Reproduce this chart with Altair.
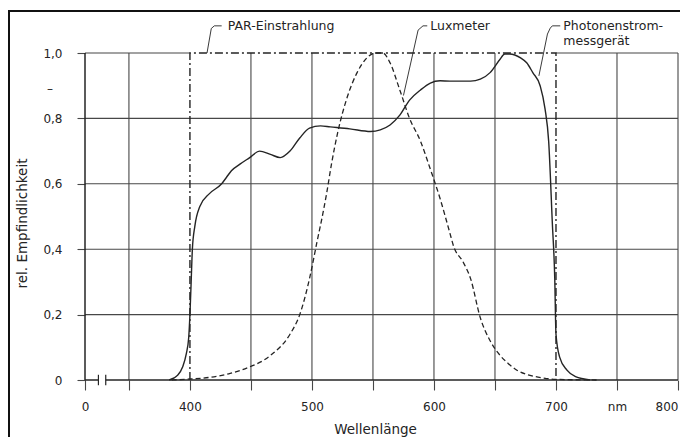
import altair as alt
import pandas as pd

# ---------------- data ----------------
# Photonenstrommessgerät (solid)
photon_nm = [383, 390, 394, 397, 399, 400, 401, 402, 404, 408, 416, 426, 430, 434, 441, 449,
             457, 466, 474, 482, 490, 498, 507, 515, 531, 548, 556, 564, 572, 580, 589, 597,
             605, 613, 630, 638, 646, 654, 658, 662, 671, 676, 681, 687, 691, 694, 697, 699,
             700, 703, 709, 716, 728]
photon_val = [0, 0.015, 0.04, 0.08, 0.13, 0.2, 0.3, 0.4, 0.47, 0.53, 0.57, 0.60, 0.62, 0.64, 0.66, 0.68,
              0.70, 0.69, 0.68, 0.70, 0.74, 0.77, 0.777, 0.774, 0.768, 0.76, 0.765, 0.78, 0.81, 0.856, 0.887, 0.908,
              0.915, 0.914, 0.914, 0.92, 0.94, 0.98, 0.997, 0.997, 0.985, 0.97, 0.94, 0.90, 0.83, 0.73, 0.48, 0.31,
              0.14, 0.07, 0.03, 0.01, 0]

# Luxmeter (dashed)
lux_nm = [385, 400, 416, 433, 449, 466, 482, 490, 498, 504, 509, 512, 516, 521, 529, 537, 545, 550,
          553, 558, 564, 572, 580, 589, 597, 605, 613, 616, 624, 630, 638, 646, 654, 661, 668, 678,
          690, 700, 735]
lux_val = [0, 0.003, 0.008, 0.02, 0.04, 0.075, 0.14, 0.20, 0.31, 0.42, 0.51, 0.57, 0.66, 0.755, 0.866, 0.94, 0.985, 0.998,
           1.0, 1.0, 0.97, 0.887, 0.80, 0.73, 0.645, 0.555, 0.45, 0.41, 0.36, 0.31, 0.19, 0.12, 0.076, 0.05, 0.03, 0.015,
           0.006, 0.002, 0]

# PAR-Einstrahlung (box 400..700 nm)
par_nm = [400, 400, 700, 700]
par_val = [0, 1, 1, 0]

# axis
X_ZERO = 314          # position of the "0" label (broken axis)
x_tick_values = [X_ZERO, 350, 400, 450, 500, 550, 600, 650, 700, 750, 800]
y_tick_values = [0, 0.2, 0.4, 0.6, 0.8, 1.0]
vgrid_nm = [350, 450, 500, 550, 600, 650, 750, 800]
hgrid_val = [0.2, 0.4, 0.6, 0.8, 1.0, 1.0]
hgrid_from = [X_ZERO, X_ZERO, X_ZERO, X_ZERO, X_ZERO, 700]
hgrid_to = [800, 800, 800, 800, 400, 800]
break_nm = [325, 331]

# annotations
ann_text = ["PAR-Einstrahlung", "Luxmeter", "Photonenstrom-", "messgerät"]
ann_nm = [431, 597, 706, 706]
ann_val = [1.083, 1.083, 1.084, 1.037]
lead_group = ["par"] * 4 + ["lux"] * 4 + ["pho"] * 5
lead_nm = [414, 417.5, 420, 426,
           575, 587, 591, 594.5,
           686, 693, 695.3, 697, 703.5]
lead_val = [1.0, 1.075, 1.083, 1.083,
            0.87, 1.07, 1.083, 1.083,
            0.93, 1.058, 1.076, 1.083, 1.083]

# ---------------- chart ----------------
FONT = "DejaVu Sans"
GRID = "#474747"
INK = "#242424"

xscale = alt.Scale(domain=[X_ZERO, 800], nice=False, zero=False)
yscale = alt.Scale(domain=[0, 1], nice=False)

xaxis = alt.Axis(values=x_tick_values, grid=False, domain=False, ticks=True, tickSize=10,
                 tickColor=GRID, tickWidth=1.1,
                 labelExpr="datum.value == %d ? '0' : (datum.value == 750 ? 'nm' : (datum.value %% 100 == 0 ? datum.value : ''))" % X_ZERO,
                 labelAlign={"condition": {"test": "datum.value == 800", "value": "right"}, "value": "center"},
                 labelFlush=False, labelOverlap=False, labelPadding=11, labelFont=FONT, labelFontSize=12,
                 labelColor=INK, title="Wellenlänge", titleFont=FONT, titleFontSize=13.5,
                 titleFontWeight="normal", titleColor=INK, titleX=290, titleY=49,
                 titleBaseline="middle", titleAlign="center")
yaxis = alt.Axis(values=y_tick_values, grid=False, domain=False, ticks=True, tickSize=8,
                 tickColor=GRID, tickWidth=1.1,
                 labelExpr="datum.value == 0 ? '0' : replace(format(datum.value, '.1f'), '.', ',')",
                 labelFlush=False, labelOverlap=False, labelPadding=15, labelFont=FONT, labelFontSize=12,
                 labelColor=INK, title="rel. Empfindlichkeit", titleFont=FONT, titleFontSize=13.5,
                 titleFontWeight="normal", titleColor=INK, titleX=-63, titleY=170,
                 titleBaseline="middle", titleAlign="center")


def X(field):
    return alt.X(field, type="quantitative", scale=xscale, axis=xaxis)


def Y(field):
    return alt.Y(field, type="quantitative", scale=yscale, axis=yaxis)


hgrid_df = pd.DataFrame({"y": hgrid_val, "x0": hgrid_from, "x1": hgrid_to})
hgrid = alt.Chart(hgrid_df).mark_rule(color=GRID, strokeWidth=1.1).encode(
    x=X("x0"), x2="x1", y=Y("y"))

vgrid_df = pd.DataFrame({"x": vgrid_nm, "y0": [0] * len(vgrid_nm), "y1": [1] * len(vgrid_nm)})
vgrid = alt.Chart(vgrid_df).mark_rule(color=GRID, strokeWidth=1.1).encode(
    x=X("x"), y=Y("y0"), y2="y1")

# axis lines (baseline with break, vertical axis)
base_df = pd.DataFrame({"x0": [X_ZERO, break_nm[1]], "x1": [break_nm[0], 800], "y": [0, 0]})
baseline = alt.Chart(base_df).mark_rule(color=INK, strokeWidth=1.5).encode(
    x=X("x0"), x2="x1", y=Y("y"))
yline_df = pd.DataFrame({"x": [X_ZERO], "y0": [0], "y1": [1]})
yline = alt.Chart(yline_df).mark_rule(color=INK, strokeWidth=1.5).encode(
    x=X("x"), y=Y("y0"), y2="y1")
brk_df = pd.DataFrame({"x": break_nm, "y0": [-0.016, -0.016], "y1": [0.016, 0.016]})
brk = alt.Chart(brk_df).mark_rule(color=INK, strokeWidth=1.2).encode(
    x=X("x"), y=Y("y0"), y2="y1")

par_df = pd.DataFrame({"nm": par_nm, "v": par_val, "o": list(range(len(par_nm)))})
par = alt.Chart(par_df).mark_line(color=INK, strokeWidth=1.4, strokeDash=[8, 3, 2, 3]).encode(
    x=X("nm"), y=Y("v"), order="o:Q")

lux_df = pd.DataFrame({"nm": lux_nm, "v": lux_val})
lux = alt.Chart(lux_df).mark_line(color=INK, strokeWidth=1.3, strokeDash=[5, 3],
                                  interpolate="monotone").encode(x=X("nm"), y=Y("v"))

pho_df = pd.DataFrame({"nm": photon_nm, "v": photon_val})
pho = alt.Chart(pho_df).mark_line(color=INK, strokeWidth=1.4,
                                  interpolate="monotone").encode(x=X("nm"), y=Y("v"))

lead_df = pd.DataFrame({"g": lead_group, "nm": lead_nm, "v": lead_val,
                        "o": list(range(len(lead_nm)))})
leads = alt.Chart(lead_df).mark_line(color=INK, strokeWidth=0.9, clip=False).encode(
    x=X("nm"), y=Y("v"), detail="g:N", order="o:Q")

ann_df = pd.DataFrame({"t": ann_text, "nm": ann_nm, "v": ann_val})
ann = alt.Chart(ann_df).mark_text(align="left", baseline="middle", font=FONT, fontSize=12.5,
                                  color=INK).encode(x=X("nm"), y=Y("v"), text="t:N")

unit_df = pd.DataFrame({"t": ["–"], "v": [0.89]})
unit = alt.Chart(unit_df).mark_text(align="center", baseline="middle", font=FONT, fontSize=12,
                                    color=INK).encode(x=alt.value(-35), y=Y("v"), text="t:N")

one = pd.DataFrame({"a": [0]})
frame_left = alt.Chart(one).mark_rule(color="#111", strokeWidth=2).encode(
    x=alt.value(-76), y=alt.value(-42), y2=alt.value(384))
frame_top = alt.Chart(one).mark_rule(color="#111", strokeWidth=2).encode(
    x=alt.value(-77), x2=alt.value(600), y=alt.value(-42))

chart = alt.layer(hgrid, vgrid, par, lux, pho, baseline, yline, brk, leads, ann, unit,
                  frame_left, frame_top).properties(
    width=593, height=327,
    padding={"left": 77, "top": 45, "right": 2, "bottom": 57},
    autosize=alt.AutoSizeParams(type="none"),
    background="white",
).configure_view(stroke=None)

chart.save("out.html", embed_options={"renderer": "svg", "actions": False})
